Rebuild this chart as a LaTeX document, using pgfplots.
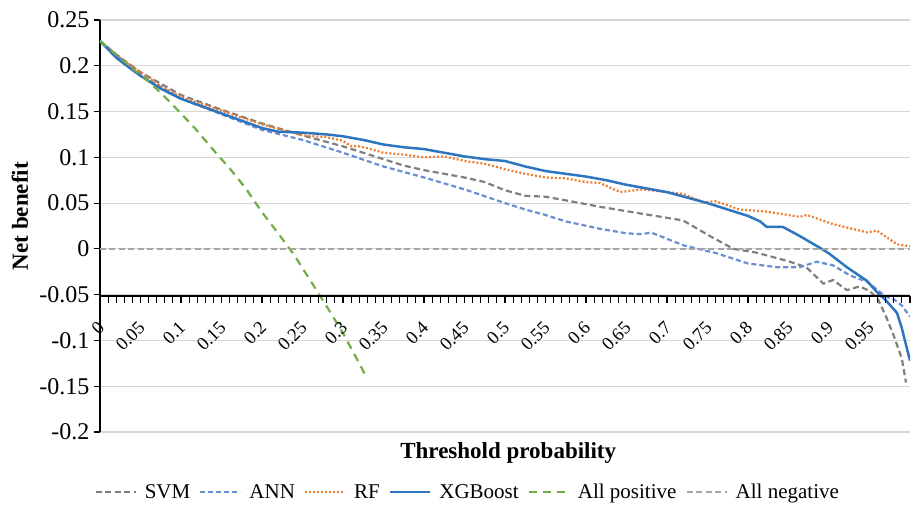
\documentclass[border=0pt]{standalone}
\usepackage{fontspec}
\setmainfont{Liberation Serif}
\usepackage{pgfplots}
\pgfplotsset{compat=1.18}
\definecolor{svmgray}{HTML}{7F7F7F}
\definecolor{annblue}{HTML}{6A8FD0}
\definecolor{rforange}{HTML}{ED7D31}
\definecolor{xgbblue}{HTML}{2E75C0}
\definecolor{posgreen}{HTML}{70AD47}
\definecolor{neggray}{HTML}{A5A5A5}

\pgfplotstableread{
x y
0 0.227
0.01 0.218
0.02 0.209
0.03 0.202
0.05 0.189
0.075 0.175
0.1 0.164
0.125 0.156
0.15 0.148
0.175 0.140
0.2 0.132
0.22 0.128
0.25 0.127
0.28 0.125
0.3 0.123
0.325 0.119
0.35 0.114
0.375 0.111
0.4 0.109
0.425 0.105
0.45 0.101
0.475 0.098
0.5 0.096
0.525 0.090
0.55 0.085
0.575 0.082
0.6 0.079
0.625 0.075
0.65 0.070
0.675 0.066
0.7 0.062
0.725 0.056
0.75 0.050
0.775 0.043
0.8 0.036
0.815 0.030
0.823 0.024
0.843 0.024
0.864 0.014
0.891 0.000
0.9 -0.005
0.922 -0.020
0.947 -0.035
0.959 -0.047
0.97 -0.056
0.984 -0.070
0.99 -0.087
1.0 -0.122
}\xgbdata

\pgfplotstableread{
x y
0 0.227
0.025 0.208
0.05 0.193
0.075 0.178
0.1 0.166
0.15 0.151
0.2 0.136
0.25 0.124
0.28 0.122
0.3 0.118
0.31 0.112
0.32 0.112
0.33 0.110
0.35 0.105
0.375 0.103
0.4 0.100
0.425 0.101
0.45 0.096
0.475 0.093
0.5 0.087
0.525 0.082
0.55 0.078
0.575 0.077
0.6 0.073
0.617 0.072
0.642 0.062
0.67 0.065
0.72 0.060
0.745 0.051
0.76 0.052
0.79 0.043
0.82 0.041
0.864 0.035
0.873 0.037
0.905 0.027
0.947 0.018
0.959 0.020
0.984 0.005
1.0 0.003
}\rfdata

\pgfplotstableread{
x y
0 0.227
0.025 0.209
0.05 0.193
0.1 0.168
0.15 0.152
0.2 0.137
0.25 0.124
0.3 0.112
0.325 0.105
0.35 0.098
0.375 0.091
0.4 0.086
0.425 0.082
0.45 0.078
0.475 0.073
0.5 0.064
0.525 0.058
0.55 0.057
0.575 0.053
0.617 0.046
0.658 0.040
0.72 0.031
0.753 0.014
0.782 0.000
0.81 -0.004
0.848 -0.013
0.872 -0.020
0.893 -0.038
0.905 -0.034
0.922 -0.045
0.938 -0.041
0.95 -0.046
0.96 -0.054
0.97 -0.073
0.98 -0.095
0.99 -0.120
0.995 -0.146
}\svmdata

\pgfplotstableread{
x y
0 0.227
0.05 0.190
0.1 0.164
0.15 0.147
0.2 0.130
0.25 0.119
0.3 0.105
0.35 0.090
0.4 0.078
0.45 0.065
0.5 0.050
0.525 0.043
0.55 0.037
0.575 0.030
0.617 0.022
0.65 0.017
0.67 0.016
0.68 0.018
0.7 0.011
0.72 0.004
0.762 -0.005
0.8 -0.016
0.836 -0.020
0.864 -0.020
0.885 -0.014
0.905 -0.018
0.926 -0.029
0.947 -0.036
0.97 -0.052
0.98 -0.055
0.99 -0.062
1.0 -0.074
}\anndata

\pgfplotstableread{
x y
0 0.227
0.02 0.212
0.04 0.197
0.06 0.183
0.08 0.166
0.1 0.148
0.12 0.129
0.14 0.108
0.16 0.088
0.18 0.066
0.2 0.040
0.22 0.017
0.24 -0.007
0.26 -0.035
0.28 -0.063
0.3 -0.092
0.32 -0.125
0.327 -0.137
}\posdata

\pgfplotstableread{
x y
0 0
1 0
}\negdata

\begin{document}
\begin{tikzpicture}
\begin{axis}[
  name=main,
  scale only axis,
  width=810pt, height=412pt,
  xmin=0, xmax=1, ymin=-0.2, ymax=0.25,
  axis y line*=left, axis x line*=bottom,
  x axis line style={draw=none},
  y axis line style={black, line width=1.4pt},
  xtick=\empty,
  ytick={-0.2,-0.15,-0.1,-0.05,0,0.05,0.1,0.15,0.2,0.25},
  yticklabels={-0.2,-0.15,-0.1,-0.05,0,0.05,0.1,0.15,0.2,0.25},
  tick align=outside,
  major tick length=6pt,
  ytick style={black, line width=1.1pt},
  yticklabel style={font=\fontsize{24}{28}\selectfont, xshift=-1pt},
  ymajorgrids,
  grid style={draw=black!16, line width=1.1pt},
  ylabel={Net benefit},
  xlabel={Threshold probability},
  every axis y label/.style={at={(axis description cs:-0.0988,0.524)}, rotate=90, anchor=center, font=\fontsize{23}{27}\selectfont\bfseries},
  every axis x label/.style={at={(axis description cs:0.504,-0.051)}, anchor=center, font=\fontsize{23}{27}\selectfont\bfseries},
  legend style={at={(0.454,-0.146)}, anchor=center, draw=none, fill=none,
    font=\fontsize{21}{24}\selectfont, legend columns=6,
    /tikz/every odd column/.append style={column sep=6pt},
    /tikz/every even column/.append style={column sep=7pt}},
  legend image code/.code={\draw[#1] (0pt,0pt) -- (40pt,0pt);},
  every axis plot/.append style={line join=round},
]
\addplot[svmgray, line width=2.2pt, dash pattern=on 6pt off 3.5pt] table {\svmdata};
\addlegendentry{SVM}
\addplot[annblue, line width=2.2pt, dash pattern=on 5pt off 3pt] table {\anndata};
\addlegendentry{ANN}
\addplot[rforange, line width=2.2pt, dash pattern=on 2pt off 2pt] table {\rfdata};
\addlegendentry{RF}
\addplot[xgbblue, line width=2.5pt] table {\xgbdata};
\addlegendentry{XGBoost}
\addplot[posgreen, line width=2.2pt, dash pattern=on 8pt off 6pt] table {\posdata};
\addlegendentry{All positive}
\addplot[neggray, line width=2.2pt, dash pattern=on 6pt off 3.5pt] table {\negdata};
\addlegendentry{All negative}
\end{axis}
\begin{axis}[
  scale only axis,
  width=810pt, height=276pt,
  at={(main.north west)}, anchor=north west,
  xmin=0, xmax=1, ymin=-0.05, ymax=0.25,
  axis x line*=bottom, axis y line=none,
  x axis line style={black, line width=1.4pt},
  xtick={0,0.05,0.1,0.15,0.2,0.25,0.3,0.35,0.4,0.45,0.5,0.55,0.6,0.65,0.7,0.75,0.8,0.85,0.9,0.95},
  xticklabels={0,0.05,0.1,0.15,0.2,0.25,0.3,0.35,0.4,0.45,0.5,0.55,0.6,0.65,0.7,0.75,0.8,0.85,0.9,0.95},
  minor xtick={0,0.01,...,1.005},
  tick align=outside,
  major tick length=7pt, minor tick length=7pt,
  xtick style={black, line width=1.1pt},
  minor tick style={black, line width=1.1pt},
  xticklabel style={font=\fontsize{18.5}{22}\selectfont, xshift=2pt, yshift=-21pt, rotate=45, anchor=east, inner sep=1pt},
]
\end{axis}
\pgfresetboundingbox
\path[use as bounding box] ([shift={(-100pt,-75pt)}]main.south west) rectangle ([shift={(1pt,20pt)}]main.north east);
\end{tikzpicture}
\end{document}
